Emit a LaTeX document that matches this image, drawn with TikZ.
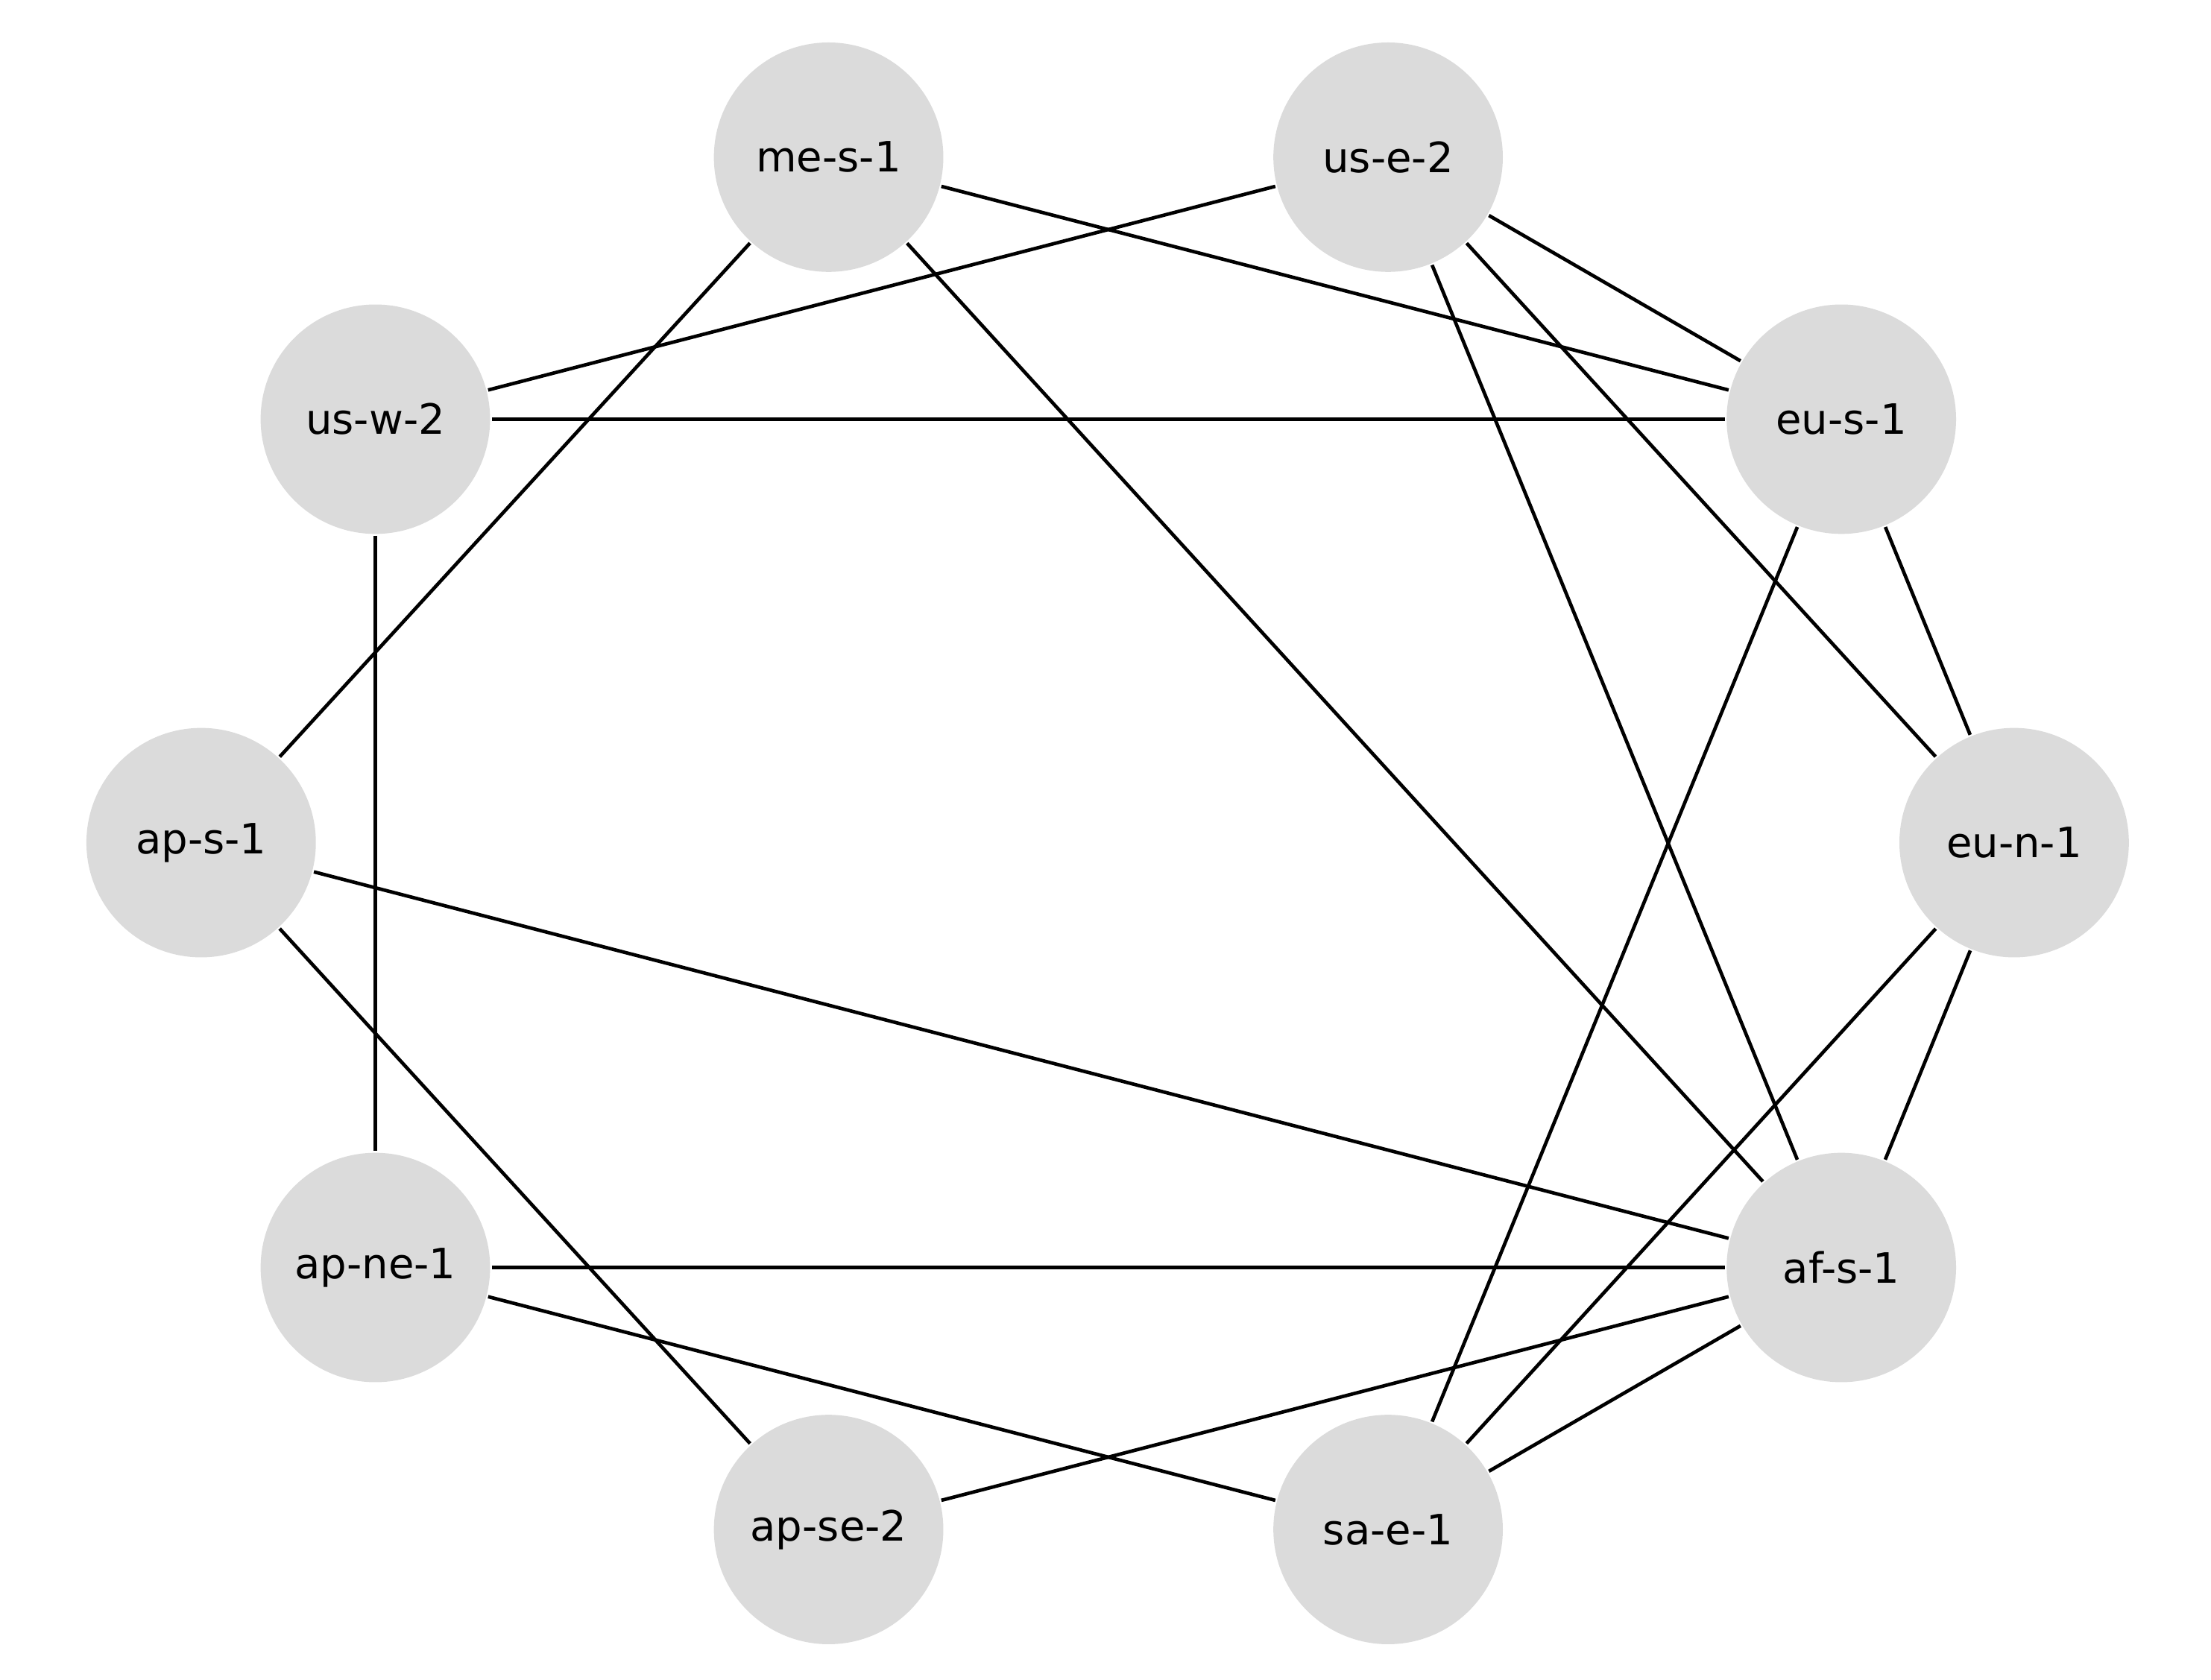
\documentclass[tikz,border=0pt]{standalone}
\usepackage{fontspec}
\setmainfont{DejaVu Sans}
\tikzset{region/.style={circle, fill=black!14, minimum size=16.2mm, inner sep=0pt, font=\fontsize{8.4}{10}\selectfont}}

\begin{document}
\begin{tikzpicture}[x=0.1mm, y=-0.1mm, line width=0.7pt]
    \useasboundingbox (0,0) rectangle (1561,1186);
    % regions placed on a ring
    \node [region] (mes1) at (585,111) {me-s-1};
    \node [region] (use2) at (980,111) {us-e-2};
    \node [region] (eus1) at (1300,296) {eu-s-1};
    \node [region] (eun1) at (1422,595) {eu-n-1};
    \node [region] (afs1) at (1300,895) {af-s-1};
    \node [region] (sae1) at (980,1080) {sa-e-1};
    \node [region] (apse2) at (585,1080) {ap-se-2};
    \node [region] (apne1) at (265,895) {ap-ne-1};
    \node [region] (aps1) at (142,595) {ap-s-1};
    \node [region] (usw2) at (265,296) {us-w-2};
    % links
    \draw (mes1) -- (eus1);
    \draw (mes1) -- (aps1);
    \draw (mes1) -- (afs1);
    \draw (use2) -- (usw2);
    \draw (use2) -- (eus1);
    \draw (use2) -- (eun1);
    \draw (use2) -- (afs1);
    \draw (usw2) -- (eus1);
    \draw (usw2) -- (apne1);
    \draw (eus1) -- (eun1);
    \draw (eus1) -- (sae1);
    \draw (eun1) -- (afs1);
    \draw (eun1) -- (sae1);
    \draw (aps1) -- (afs1);
    \draw (aps1) -- (apse2);
    \draw (apne1) -- (afs1);
    \draw (apne1) -- (sae1);
    \draw (apse2) -- (afs1);
    \draw (sae1) -- (afs1);
\end{tikzpicture}
\end{document}
